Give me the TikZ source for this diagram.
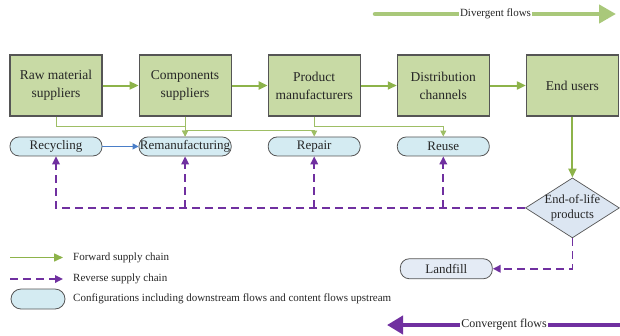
\documentclass[tikz,border=0pt]{standalone}
\usepackage{fontspec}
\setmainfont{Liberation Serif}
\usepackage{xcolor}
\usepackage{tikz}
\usetikzlibrary{shapes.geometric,arrows.meta,positioning,calc}
\definecolor{stagefill}{HTML}{C8DAA5}
\definecolor{boxline}{HTML}{555555}
\definecolor{cfgfill}{HTML}{D4EBF2}
\definecolor{lfillc}{HTML}{E4EBF5}
\definecolor{eolfill}{HTML}{DCE6F2}
\definecolor{fwdc}{HTML}{8DB34A}
\definecolor{divc}{HTML}{A9C87A}
\definecolor{revc}{HTML}{7030A0}
\definecolor{bluec}{HTML}{4A7EC8}
\definecolor{txt}{HTML}{262626}
\tikzset{
  stage/.style   = {rectangle, draw=boxline, line width=1.1pt, fill=stagefill, text=txt,
                    align=center, font=\fontsize{13.5}{18}\selectfont,
                    minimum width=92pt, minimum height=61pt, inner sep=2pt},
  cfg/.style     = {rectangle, rounded corners=9pt, draw=boxline, line width=0.8pt, fill=cfgfill,
                    text=txt, font=\fontsize{13}{14}\selectfont,
                    minimum width=92pt, minimum height=19pt, inner sep=1pt},
  lfill/.style   = {cfg, fill=lfillc, minimum height=20pt, font=\fontsize{13}{14}\selectfont},
  eolshape/.style= {diamond, draw=boxline, line width=0.7pt, fill=eolfill, text=txt,
                    align=center, font=\fontsize{12.5}{15}\selectfont,
                    minimum width=94pt, minimum height=60pt, inner sep=-8pt},
  fl/.style      = {-{Triangle[length=9pt,width=8pt]}, line width=2pt, fwdc},
  brn/.style     = {-{Triangle[length=6pt,width=6pt]}, line width=1pt, fwdc!85},
  rfl/.style     = {-{Triangle[length=8pt,width=7.5pt]}, line width=1.7pt, revc,
                    dash pattern=on 8pt off 5pt},
  bfl/.style     = {-{Triangle[length=6pt,width=6pt]}, line width=1pt, bluec},
  lgd/.style     = {anchor=west, inner sep=0pt, text=txt, font=\fontsize{11}{12}\selectfont},
  flowlbl/.style = {fill=white, inner sep=1pt, text=txt},
}

\begin{document}
\begin{tikzpicture}[x=1pt, y=1pt, node distance=20pt and 36pt]
  \useasboundingbox (0,0) rectangle (620,-335);

  % forward chain
  \node[stage] (raw) at (56,-85.5) {Raw material\\suppliers};
  \node[stage, right=of raw] (comp) {Components\\suppliers};
  \node[stage, right=of comp] (prod) {Product\\manufacturers};
  \node[stage, right=of prod] (dist) {Distribution\\channels};
  \node[stage, right=of dist] (user) {End users};

  % configurations
  \node[cfg, below=of raw] (recyc) {Recycling};
  \node[cfg, below=of comp] (reman) {Remanufacturing};
  \node[cfg, below=of prod] (repair) {Repair};
  \node[cfg, below=of dist] (reuse) {Reuse};

  \node[eolshape, below=61pt of user] (eol) {End-of-life\\products};
  \node[lfill, below=102pt of reuse, xshift=3pt] (land) {Landfill};

  \draw[fl] (raw) -- (comp);
  \draw[fl] (comp) -- (prod);
  \draw[fl] (prod) -- (dist);
  \draw[fl] (dist) -- (user);
  \draw[fl] (user) -- (eol);

  \draw[brn] (raw.south) -- ++(0,-10) -| (reman.north);
  \draw[brn] (comp.south) -- (reman.north);
  \draw[brn] (comp.south) -- ++(0,-14) -| (repair.north);
  \draw[brn] (prod.south) -- ++(0,-10) -| (reuse.north);
  \draw[bfl] (recyc) -- (reman);

  % reverse chain
  \draw[rfl] (eol.west) -| (recyc.south);
  \draw[rfl] (eol.west -| reman.south) -- (reman.south);
  \draw[rfl] (eol.west -| repair.south) -- (repair.south);
  \draw[rfl] (eol.west -| reuse.south) -- (reuse.south);
  \draw[rfl] (eol.south) |- (land.east);

  % legend
  \coordinate (lf0) at (10,-257.5);
  \coordinate (lf1) at (63,-257.5);
  \coordinate (lr0) at (10,-279);
  \coordinate (lr1) at (63,-279);
  \node[cfg, minimum width=54pt, minimum height=20pt, rounded corners=10pt] (lcfg) at (38,-299) {};
  \draw[fl, line width=1.5pt] (lf0) -- (lf1);
  \draw[rfl] (lr0) -- (lr1);
  \node[lgd] (lftxt) at (73,-257.5) {Forward supply chain};
  \node[lgd] (lrtxt) at (73,-279) {Reverse supply chain};
  \node[lgd] (lctxt) at (73,-299) {Configurations including downstream flows and content flows upstream};

  % flow directions
  \coordinate (dv0) at (375,-14);
  \coordinate (dv1) at (616,-14);
  \coordinate (cv0) at (621,-325);
  \coordinate (cv1) at (387,-325);
  \draw[divc, line width=4.5pt, line cap=round, -{Triangle[length=17pt,width=18pt]}]
    (dv0) -- node[flowlbl, font=\fontsize{11}{12}\selectfont] (dvtxt) {Divergent flows} (dv1);
  \draw[revc, line width=4pt, -{Triangle[length=16pt,width=18pt]}]
    (cv0) -- node[flowlbl, font=\fontsize{12}{13}\selectfont] (cvtxt) {Convergent flows} (cv1);

\end{tikzpicture}
\end{document}
